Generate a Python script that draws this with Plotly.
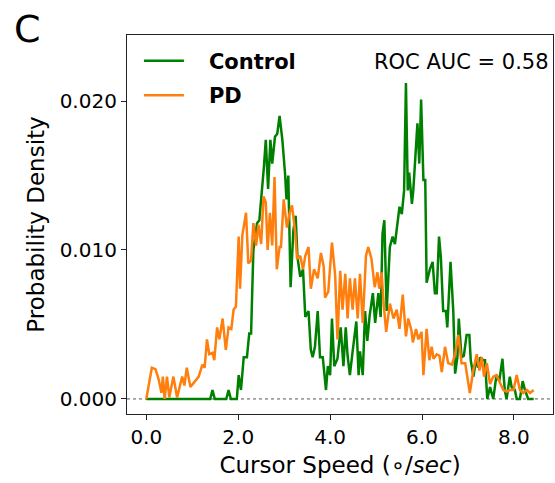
import plotly.graph_objects as go

# PD (orange) curve: speed (deg/sec) and probability density
pd_speed = [0.00, 0.05, 0.12, 0.20, 0.27, 0.33, 0.36, 0.40, 0.45, 0.50, 0.59, 0.67, 0.78, 0.83, 0.88,
            0.96, 1.03, 1.14, 1.22, 1.27, 1.32, 1.37, 1.44, 1.48, 1.54, 1.59, 1.66, 1.73, 1.79, 1.85,
            1.90, 1.95, 2.01, 2.04, 2.09, 2.17, 2.22, 2.28, 2.33, 2.39, 2.44, 2.50, 2.55, 2.60, 2.64,
            2.69, 2.74, 2.79, 2.84, 2.90, 2.93, 2.99, 3.06, 3.12, 3.17, 3.24, 3.28, 3.35, 3.41, 3.46,
            3.53, 3.58, 3.65, 3.73, 3.80, 3.86, 3.89, 3.96, 4.04, 4.11, 4.16, 4.22, 4.27, 4.33, 4.38,
            4.43, 4.49, 4.54, 4.60, 4.65, 4.71, 4.78, 4.83, 4.90, 4.97, 5.03, 5.07, 5.12, 5.17, 5.22,
            5.30, 5.38, 5.45, 5.51, 5.58, 5.65, 5.70, 5.77, 5.80, 5.87, 5.92, 5.99, 6.03, 6.10, 6.16,
            6.21, 6.25, 6.32, 6.38, 6.43, 6.50, 6.57, 6.65, 6.72, 6.79, 6.86, 6.94, 6.99, 7.04, 7.12,
            7.19, 7.25, 7.30, 7.35, 7.41, 7.48, 7.55, 7.62, 7.70, 7.77, 7.84, 7.91, 7.99, 8.06, 8.13,
            8.20, 8.28, 8.35, 8.43]
pd_density = [0.0000, 0.0009, 0.0021, 0.0020, 0.0013, 0.0004, 0.0015, 0.0000, 0.0015, 0.0001, 0.0015,
              0.0001, 0.0015, 0.0009, 0.0021, 0.0008, 0.0011, 0.0015, 0.0023, 0.0021, 0.0040, 0.0030,
              0.0031, 0.0026, 0.0048, 0.0040, 0.0054, 0.0033, 0.0048, 0.0047, 0.0060, 0.0062, 0.0109,
              0.0074, 0.0110, 0.0125, 0.0091, 0.0093, 0.0118, 0.0103, 0.0117, 0.0104, 0.0136, 0.0132,
              0.0100, 0.0125, 0.0103, 0.0149, 0.0087, 0.0102, 0.0102, 0.0134, 0.0115, 0.0125, 0.0130,
              0.0112, 0.0094, 0.0096, 0.0087, 0.0096, 0.0102, 0.0074, 0.0087, 0.0081, 0.0098, 0.0089,
              0.0068, 0.0072, 0.0105, 0.0083, 0.0040, 0.0086, 0.0060, 0.0084, 0.0054, 0.0081, 0.0060,
              0.0081, 0.0054, 0.0084, 0.0051, 0.0096, 0.0102, 0.0094, 0.0075, 0.0085, 0.0074, 0.0085,
              0.0062, 0.0045, 0.0064, 0.0054, 0.0060, 0.0047, 0.0070, 0.0042, 0.0054, 0.0046, 0.0038,
              0.0047, 0.0040, 0.0045, 0.0016, 0.0047, 0.0026, 0.0035, 0.0027, 0.0030, 0.0029, 0.0018,
              0.0035, 0.0024, 0.0023, 0.0030, 0.0043, 0.0024, 0.0024, 0.0013, 0.0004, 0.0020, 0.0030,
              0.0019, 0.0028, 0.0015, 0.0024, 0.0010, 0.0015, 0.0016, 0.0010, 0.0006, 0.0005, 0.0006,
              0.0006, 0.0016, 0.0006, 0.0004, 0.0006, 0.0004, 0.0006]

# Control (green) curve
ctrl_speed = [0.00, 1.39, 1.44, 1.49, 1.74, 1.79, 1.84, 1.97, 2.01, 2.06, 2.12, 2.19, 2.24, 2.28, 2.33,
              2.41, 2.46, 2.51, 2.56, 2.60, 2.65, 2.70, 2.74, 2.80, 2.85, 2.90, 2.96, 3.02, 3.05, 3.09,
              3.14, 3.20, 3.25, 3.29, 3.35, 3.41, 3.46, 3.53, 3.58, 3.62, 3.67, 3.73, 3.78, 3.84, 3.91,
              3.95, 4.00, 4.04, 4.09, 4.16, 4.23, 4.29, 4.34, 4.38, 4.43, 4.49, 4.57, 4.62, 4.65, 4.71,
              4.76, 4.81, 4.86, 4.93, 4.98, 5.05, 5.10, 5.14, 5.18, 5.23, 5.30, 5.36, 5.41, 5.45, 5.51,
              5.56, 5.61, 5.65, 5.69, 5.72, 5.78, 5.81, 5.87, 5.90, 5.94, 5.98, 6.03, 6.07, 6.10, 6.17,
              6.23, 6.28, 6.32, 6.37, 6.41, 6.46, 6.52, 6.55, 6.62, 6.68, 6.72, 6.77, 6.80, 6.86, 6.91,
              6.97, 7.03, 7.06, 7.12, 7.17, 7.22, 7.27, 7.33, 7.37, 7.42, 7.48, 7.55, 7.62, 7.68, 7.75,
              7.80, 7.84, 7.91, 7.95, 8.02, 8.06, 8.13, 8.19, 8.24, 8.31, 8.38, 8.43]
ctrl_density = [0.0000, 0.0000, 0.0006, 0.0000, 0.0000, 0.0006, 0.0000, 0.0000, 0.0016, 0.0006, 0.0028,
                0.0028, 0.0044, 0.0044, 0.0100, 0.0118, 0.0120, 0.0136, 0.0156, 0.0174, 0.0141, 0.0174,
                0.0158, 0.0176, 0.0178, 0.0190, 0.0174, 0.0151, 0.0134, 0.0150, 0.0075, 0.0113, 0.0123,
                0.0095, 0.0082, 0.0087, 0.0055, 0.0059, 0.0033, 0.0028, 0.0035, 0.0059, 0.0028, 0.0028,
                0.0006, 0.0022, 0.0016, 0.0054, 0.0022, 0.0027, 0.0048, 0.0022, 0.0048, 0.0029, 0.0016,
                0.0032, 0.0052, 0.0016, 0.0032, 0.0016, 0.0059, 0.0039, 0.0056, 0.0071, 0.0051, 0.0071,
                0.0055, 0.0111, 0.0120, 0.0059, 0.0102, 0.0109, 0.0104, 0.0114, 0.0129, 0.0124, 0.0140,
                0.0212, 0.0140, 0.0152, 0.0131, 0.0140, 0.0169, 0.0185, 0.0158, 0.0201, 0.0147, 0.0147,
                0.0078, 0.0087, 0.0092, 0.0071, 0.0071, 0.0109, 0.0095, 0.0059, 0.0059, 0.0048, 0.0092,
                0.0059, 0.0017, 0.0028, 0.0054, 0.0028, 0.0029, 0.0043, 0.0043, 0.0026, 0.0015, 0.0026,
                0.0021, 0.0028, 0.0026, 0.0026, 0.0000, 0.0008, 0.0000, 0.0016, 0.0012, 0.0027, 0.0006,
                0.0000, 0.0015, 0.0008, 0.0006, 0.0000, 0.0000, 0.0012, 0.0006, 0.0000, 0.0000, 0.0000]

x_ticks = [0.0, 2.0, 4.0, 6.0, 8.0]
y_ticks = [0.000, 0.010, 0.020]
auc_text = "ROC AUC = 0.58"
panel_label = "C"

FONT = "DejaVu Sans"
GAP = "\u00a0\u00a0\u00a0"

fig = go.Figure()
fig.add_trace(go.Scatter(x=ctrl_speed, y=ctrl_density, mode="lines", name=GAP + "<b>Control</b>",
                         line=dict(color="#008000", width=2.5), legendgroup="a"))
fig.add_trace(go.Scatter(x=pd_speed, y=pd_density, mode="lines", name=GAP + "<b>PD</b>",
                         line=dict(color="#ff7f0e", width=2.5), legendgroup="b"))

fig.add_shape(type="line", xref="paper", x0=0, x1=1, yref="y", y0=0, y1=0,
              line=dict(color="#555555", width=1, dash="dot"), layer="below")

fig.add_annotation(x=0.995, xref="paper", y=0.929, yref="paper", text=auc_text, showarrow=False,
                   xanchor="right", yanchor="middle", font=dict(family=FONT, size=21, color="black"))
fig.add_annotation(x=-0.27, xref="paper", y=1.016, yref="paper", text=panel_label, showarrow=False,
                   xanchor="left", yanchor="middle", font=dict(family=FONT, size=38, color="black"))

fig.update_layout(
    width=555, height=483,
    margin=dict(l=127, r=2, t=35, b=69),
    paper_bgcolor="white", plot_bgcolor="white",
    font=dict(family=FONT, size=20, color="black"),
    showlegend=True,
    legend=dict(x=0.028, y=0.985, xanchor="left", yanchor="top", bgcolor="rgba(0,0,0,0)",
                font=dict(family=FONT, size=21, color="black"), tracegroupgap=4,
                itemwidth=40),
    xaxis=dict(range=[-0.42, 8.85], tickvals=x_ticks, tickformat=".1f", ticks="outside",
               ticklen=5, tickwidth=1, tickcolor="#222", showgrid=False, zeroline=False,
               showline=True, linecolor="#222", linewidth=1.2, mirror=True,
               tickfont=dict(family=FONT, size=20),
               title=dict(text="Cursor Speed (∘/<i>sec</i>)", font=dict(family=FONT, size=23), standoff=8)),
    yaxis=dict(range=[-0.00101, 0.02443], tickvals=y_ticks, tickformat=".3f", ticks="outside",
               ticklen=5, tickwidth=1, tickcolor="#222", showgrid=False, zeroline=False,
               showline=True, linecolor="#222", linewidth=1.2, mirror=True,
               tickfont=dict(family=FONT, size=20),
               title=dict(text="Probability Density", font=dict(family=FONT, size=23), standoff=8)),
)

fig.write_html("out.html")
